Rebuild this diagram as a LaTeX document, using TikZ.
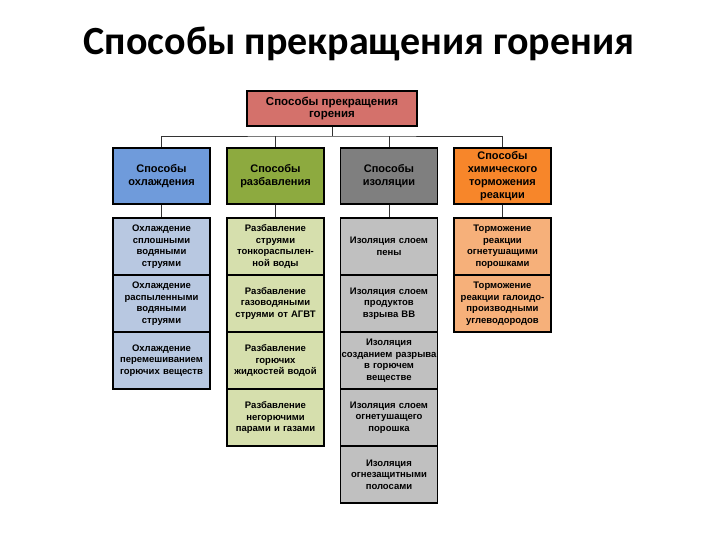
\documentclass[tikz,border=0pt]{standalone}
\usepackage{fontspec}
\setmainfont{Liberation Sans}
\newfontfamily\titlefont{Carlito}
\usetikzlibrary{positioning}
\definecolor{cTOP}{HTML}{D4716B}
\definecolor{cBLU}{HTML}{6F9BDB}
\definecolor{cGRN}{HTML}{8DAA3F}
\definecolor{cGRY}{HTML}{7F7F7F}
\definecolor{cORG}{HTML}{F7862A}
\definecolor{cBLUl}{HTML}{B8C8E1}
\definecolor{cGRNl}{HTML}{D6DFAD}
\definecolor{cGRYl}{HTML}{C0C0C0}
\definecolor{cORGl}{HTML}{F6B07A}
\tikzset{
  topbox/.style={draw, line width=1.3pt, fill=cTOP, minimum width=170pt, minimum height=35pt,
    align=center, inner sep=0pt, font=\fontsize{11.5}{12.5}\selectfont\bfseries},
  headbox/.style={draw, line width=1.3pt, minimum width=97pt, minimum height=56pt, text width=95pt,
    align=center, inner sep=0pt, font=\fontsize{11}{13}\selectfont\bfseries},
  itembox/.style={draw, line width=1.3pt, minimum width=97pt, minimum height=57pt, text width=95pt,
    align=center, inner sep=0pt, font=\fontsize{9.5}{11.5}\selectfont\bfseries},
  wire/.style={draw=black!80, line width=0.8pt}
}

\begin{document}
\begin{tikzpicture}[x=1pt, y=-1pt]
\useasboundingbox (0,0) rectangle (720,540);
\node[font=\titlefont\bfseries\fontsize{40}{42}\selectfont] (title) at (359,44) {Способы прекращения горения};

\node[topbox] (top) at (332,108.5) {Способы прекращения\\горения};
\node[headbox, fill=cBLU] (hA) at (161.5,176) {Способы\\охлаждения};
\node[headbox, fill=cGRN] (hB) at (275.5,176) {Способы\\разбавления};
\node[headbox, fill=cGRY] (hC) at (389,176) {Способы\\изоляции};
\node[headbox, fill=cORG] (hD) at (502.5,176) {Способы\\химического\\торможения\\реакции};

% items of each column
\foreach \t [count=\i] in {{Охлаждение\\сплошными\\водяными\\струями},
  {Охлаждение\\распыленными\\водяными\\струями},
  {Охлаждение\\перемешиванием\\горючих веществ}}
  \node[itembox, fill=cBLUl] (a\i) at (161.5,{189.5+57*\i}) {\t};
\foreach \t [count=\i] in {{Разбавление\\струями\\тонкораспылен-\\ной воды},
  {Разбавление\\газоводяными\\струями от АГВТ},
  {Разбавление\\горючих\\жидкостей водой},
  {Разбавление\\негорючими\\парами и газами}}
  \node[itembox, fill=cGRNl] (b\i) at (275.5,{189.5+57*\i}) {\t};
\foreach \t [count=\i] in {{Изоляция слоем\\пены},
  {Изоляция слоем\\продуктов\\взрыва ВВ},
  {Изоляция\\созданием разрыва\\в горючем\\веществе},
  {Изоляция слоем\\огнетушащего\\порошка},
  {Изоляция\\огнезащитными\\полосами}}
  \node[itembox, fill=cGRYl] (c\i) at (389,{189.5+57*\i}) {\t};
\foreach \t [count=\i] in {{Торможение\\реакции\\огнетушащими\\порошками},
  {Торможение\\реакции галоидо-\\производными\\углеводородов}}
  \node[itembox, fill=cORGl] (d\i) at (502.5,{189.5+57*\i}) {\t};

% connectors
\coordinate (bus) at (332,136);
\draw[wire] (top.south) -- (bus);
\draw[wire] (hA.north) |- (bus) -| (hD.north);
\draw[wire] (hB.north) -- (hB.north |- bus);
\draw[wire] (hC.north) -- (hC.north |- bus);
\foreach \h/\n in {hA/a1, hB/b1, hC/c1, hD/d1}
  \draw[wire] (\h.south) -- (\n.north);
\end{tikzpicture}
\end{document}
